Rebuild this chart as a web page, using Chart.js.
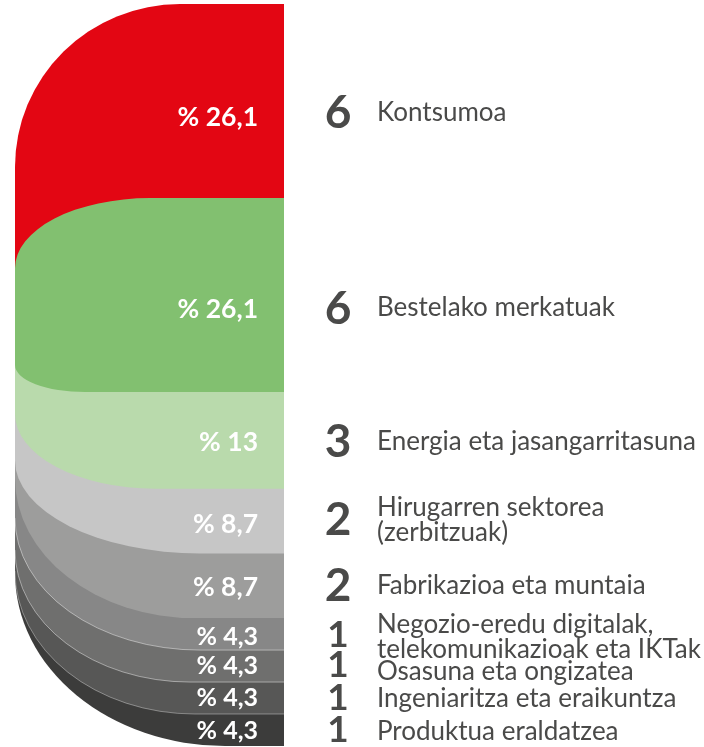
<!DOCTYPE html>
<html><head><meta charset="utf-8">
<script src="https://cdn.jsdelivr.net/npm/chart.js@4/dist/chart.umd.min.js"></script>
<style>html,body{margin:0;padding:0;background:#fff}canvas{display:block}</style>
</head><body>
<canvas id="c" width="704" height="747"></canvas>
<script>
// ---------- DATA ----------
const categories = [
  'Kontsumoa',
  'Bestelako merkatuak',
  'Energia eta jasangarritasuna',
  'Hirugarren sektorea\n(zerbitzuak)',
  'Fabrikazioa eta muntaia',
  'Negozio-eredu digitalak,\ntelekomunikazioak eta IKTak',
  'Osasuna eta ongizatea',
  'Ingeniaritza eta eraikuntza',
  'Produktua eraldatzea'
];
const projectCounts = [6, 6, 3, 2, 2, 1, 1, 1, 1];
const percentages = [26.1, 26.1, 13, 8.7, 8.7, 4.3, 4.3, 4.3, 4.3];
const percentLabels = ['% 26,1', '% 26,1', '% 13', '% 8,7', '% 8,7', '% 4,3', '% 4,3', '% 4,3', '% 4,3'];

// ---------- STYLE ----------
const colors = ['#E30613', '#82C070', '#B9DAAC', '#C6C6C6', '#9D9D9C', '#878787', '#6F6F6E', '#575756', '#3C3C3B'];
const shapes = [
  { tl: [165, 163] },
  { tl: [135, 70], bl: [70, 27] },
  { bl: [140, 75] },
  { bl: [185, 93] },
  { bl: [180, 140] },
  { bl: [185, 132], edge: 'rgba(255,255,255,0.55)' },
  { bl: [175, 132], edge: 'rgba(255,255,255,0.55)' },
  { bl: [180, 143], edge: 'rgba(255,255,255,0.45)' },
  { bl: [210, 173] }
];
const pctNudge = [15, 13, 1.5, 2, 1, 2, -1, -1, 0];
const pctSize = [26.5, 26.5, 26.5, 26.5, 26.5, 25, 25, 25, 25];
const numNudge = [10, 12, 0, -3, -1, 0, -2, -1, -1];
const textNudge = [11, 12, 0, -2, -1, 2, 5, 0, 1];
const textColor = '#4a4a49';

// cumulative segment bounds (from the data)
const starts = [], ends = [];
percentages.reduce((acc, p) => { starts.push(acc); ends.push(acc + p); return acc + p; }, 0);
const total = ends[ends.length - 1];
const greenMid = (starts[1] + ends[1]) / 2;

// floating ranges: green on top; red ends hidden under green; lower layers start hidden under green
const ranges = percentages.map((p, i) => {
  if (i === 0) return [starts[0], greenMid];
  if (i === 1) return [starts[1], ends[1]];
  return [greenMid, ends[i]];
});

// ---------- custom bar element with elliptical left corners ----------
class PillBar extends Chart.BarElement {
  draw(ctx) {
    const { x, y, base, width } = this.getProps(['x', 'y', 'base', 'width']);
    const left = x - width / 2, right = x + width / 2;
    const top = Math.min(y, base), bottom = Math.max(y, base);
    const s = this.$shape || {};
    const tl = s.tl || [0, 0], bl = s.bl || [0, 0];
    ctx.save();
    ctx.beginPath();
    ctx.moveTo(left + tl[0], top);
    ctx.lineTo(right, top);
    ctx.lineTo(right, bottom);
    ctx.lineTo(left + bl[0], bottom);
    if (bl[0] && bl[1]) ctx.ellipse(left + bl[0], bottom - bl[1], bl[0], bl[1], 0, Math.PI / 2, Math.PI);
    ctx.lineTo(left, top + tl[1]);
    if (tl[0] && tl[1]) ctx.ellipse(left + tl[0], top + tl[1], tl[0], tl[1], 0, Math.PI, Math.PI * 1.5);
    ctx.closePath();
    ctx.fillStyle = this.options.backgroundColor;
    ctx.fill();
    if (s.edge) {
      ctx.beginPath();
      ctx.moveTo(right, bottom);
      ctx.lineTo(left + bl[0], bottom);
      if (bl[0] && bl[1]) ctx.ellipse(left + bl[0], bottom - bl[1], bl[0], bl[1], 0, Math.PI / 2, Math.PI);
      ctx.strokeStyle = s.edge;
      ctx.lineWidth = 0.8;
      ctx.stroke();
    }
    ctx.restore();
  }
}
PillBar.id = 'pillBar';
PillBar.defaults = {};

class PillController extends Chart.BarController {
  draw() {
    const ds = this.getDataset();
    this._cachedMeta.data.forEach(el => { el.$shape = ds.shape; });
    super.draw();
  }
}
PillController.id = 'pill';
PillController.defaults = { dataElementType: 'pillBar' };
Chart.register(PillBar, PillController);

// ---------- labels plugin ----------
const labelPlugin = {
  id: 'sideLabels',
  afterDatasetsDraw(chart) {
    const ctx = chart.ctx;
    const yScale = chart.scales.y;
    const area = chart.chartArea;
    ctx.save();
    categories.forEach((cat, i) => {
      const cy = yScale.getPixelForValue((starts[i] + ends[i]) / 2);
      // percent inside bar
      const ps = pctSize[i];
      ctx.font = 'bold ' + ps + 'px Lato';
      ctx.fillStyle = '#ffffff';
      ctx.textAlign = 'right';
      ctx.textBaseline = 'alphabetic';
      ctx.fillText(percentLabels[i], area.right - 26, cy + pctNudge[i] + ps * 0.36);
      // count
      const ns = projectCounts[i] >= 2 ? 46 : 37;
      ctx.font = 'bold ' + ns + 'px Lato';
      ctx.fillStyle = textColor;
      ctx.textAlign = 'center';
      ctx.fillText(String(projectCounts[i]), 338, cy + numNudge[i] + ns * 0.36);
      // category text
      const lines = cat.split('\n');
      const lh = 25, fs = 26;
      ctx.font = fs + 'px Lato';
      ctx.textAlign = 'left';
      const c0 = cy + textNudge[i] - (lines.length - 1) * lh / 2;
      lines.forEach((ln, k) => {
        ctx.fillText(ln, 377, c0 + k * lh + fs * 0.36);
      });
    });
    ctx.restore();
  }
};

new Chart(document.getElementById('c'), {
  type: 'pill',
  data: {
    labels: [''],
    datasets: categories.map((cat, i) => ({
      label: cat,
      data: [ranges[i]],
      backgroundColor: colors[i],
      shape: shapes[i],
      order: i === 1 ? -1 : 0,
      barPercentage: 1,
      categoryPercentage: 1,
      grouped: false
    }))
  },
  options: {
    responsive: false,
    devicePixelRatio: 1,
    animation: false,
    events: [],
    layout: { padding: { left: 15, right: 420, top: 4, bottom: 1 } },
    scales: {
      x: { display: false },
      y: { display: false, reverse: true, min: 0, max: total }
    },
    plugins: { legend: { display: false }, tooltip: { enabled: false } }
  },
  plugins: [labelPlugin]
});
</script>
</body></html>
